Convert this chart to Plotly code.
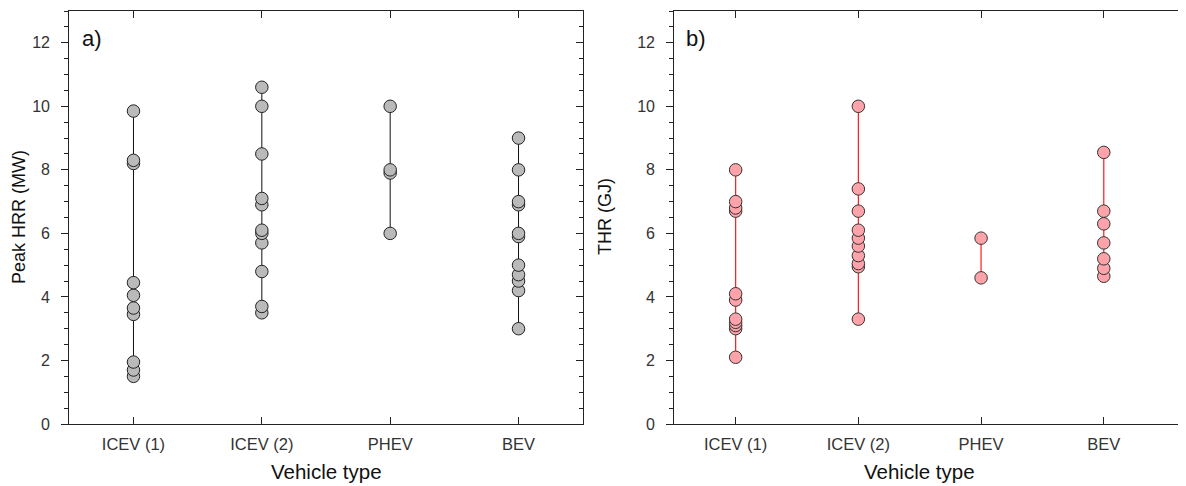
import plotly.graph_objects as go

categories = ["ICEV (1)", "ICEV (2)", "PHEV", "BEV"]

# Panel a) Peak HRR (MW)
hrr_icev1 = [9.85, 8.3, 8.2, 4.45, 4.05, 3.65, 3.45, 1.95, 1.7, 1.5]
hrr_icev2 = [10.6, 10.0, 8.5, 7.1, 6.9, 6.1, 6.0, 5.7, 4.8, 3.7, 3.5]
hrr_phev = [10.0, 8.0, 7.9, 6.0]
hrr_bev = [9.0, 8.0, 7.0, 6.9, 6.0, 5.9, 5.0, 4.7, 4.5, 4.2, 3.0]

# Panel b) THR (GJ)
thr_icev1 = [8.0, 7.0, 6.8, 6.7, 4.1, 3.9, 3.3, 3.2, 3.1, 3.0, 2.1]
thr_icev2 = [10.0, 7.4, 6.7, 6.1, 5.85, 5.6, 5.3, 5.05, 4.95, 3.3]
thr_phev = [5.85, 4.6]
thr_bev = [8.55, 6.7, 6.3, 5.7, 5.2, 4.9, 4.65]

hrr_sets = [hrr_icev1, hrr_icev2, hrr_phev, hrr_bev]
thr_sets = [thr_icev1, thr_icev2, thr_phev, thr_bev]

# page is 1186x486; the default body margin offsets the figure by 8 px
OFF = 8
W, H = 1186 - OFF, 486 - OFF
T, B = 3, 62
PH = H - T - B  # plot height in px
FONT = "Arial, Liberation Sans, sans-serif"

fig = go.Figure()

for cat, vals in zip(categories, hrr_sets):
    v = sorted(vals)
    fig.add_trace(go.Scatter(
        x=[cat] * len(v), y=v, mode="lines+markers", xaxis="x", yaxis="y",
        line=dict(color="#111111", width=1),
        marker=dict(size=12.5, color="#bababa", line=dict(color="#222222", width=1)),
        showlegend=False, hoverinfo="y"))

for cat, vals in zip(categories, thr_sets):
    v = sorted(vals)
    fig.add_trace(go.Scatter(
        x=[cat] * len(v), y=v, mode="lines+markers", xaxis="x2", yaxis="y2",
        line=dict(color="#ff1a1a", width=1.2),
        marker=dict(size=12.5, color="#ffa3ab", line=dict(color="#333333", width=1)),
        showlegend=False, hoverinfo="y"))

# invisible traces to activate the right-side tick axes
fig.add_trace(go.Scatter(x=categories, y=[None] * 4, xaxis="x", yaxis="y3",
                         showlegend=False, hoverinfo="skip"))
fig.add_trace(go.Scatter(x=categories, y=[None] * 4, xaxis="x2", yaxis="y4",
                         showlegend=False, hoverinfo="skip"))

xtickfont = dict(family=FONT, size=16.5, color="#333333")
ytickfont = dict(family=FONT, size=16, color="#333333")

def xax(domain, rng, anchor):
    return dict(domain=domain, anchor=anchor, type="category",
                categoryorder="array", categoryarray=categories,
                range=rng, ticks="inside", ticklen=7, tickwidth=1,
                tickcolor="#222222", showline=True, linecolor="#222222",
                linewidth=1.2, mirror="ticks", showgrid=False, zeroline=False,
                tickfont=xtickfont, ticklabelstandoff=5, automargin=False,
                fixedrange=True)

def yax_left(anchor):
    return dict(anchor=anchor, domain=[0, 1], range=[0, 13], dtick=2,
                ticks="outside", ticklen=7, tickwidth=1, tickcolor="#222222",
                minor=dict(dtick=0.5, ticks="outside", ticklen=4,
                           tickcolor="#222222", tickwidth=1),
                showline=True, linecolor="#222222", linewidth=1.2, mirror=True,
                showgrid=False, zeroline=False, tickfont=ytickfont,
                ticklabelstandoff=8, automargin=False, fixedrange=True)

def yax_right(anchor, overlay):
    return dict(anchor=anchor, overlaying=overlay, side="right",
                range=[0, 13], dtick=2, ticks="inside", ticklen=7, tickwidth=1,
                tickcolor="#222222",
                minor=dict(dtick=0.5, ticks="inside", ticklen=4,
                           tickcolor="#222222", tickwidth=1),
                showline=False, showgrid=False, zeroline=False,
                showticklabels=False, automargin=False, fixedrange=True)

def px(pagex):
    return (pagex - OFF) / W

def py(pagey):
    """page pixel row -> paper y (paper spans the plot area)"""
    return (H - B - (pagey - OFF)) / PH

xd1 = [px(69.3), px(582.7)]
xd2 = [px(674.3), 1.0]

fig.update_layout(
    width=W, height=H, autosize=False,
    margin=dict(l=0, r=0, t=T, b=B, autoexpand=False),
    paper_bgcolor="white", plot_bgcolor="white",
    font=dict(family=FONT, color="#222222"),
    xaxis=xax(xd1, [-0.5, 3.5], "y"),
    yaxis=yax_left("x"),
    yaxis3=yax_right("x", "y"),
    xaxis2=xax(xd2, [-0.5, 3.67], "y2"),
    yaxis2=yax_left("x2"),
    yaxis4=yax_right("x2", "y2"),
)

annotations = [
    dict(text="a)", x=px(80), y=py(38), xanchor="left", yanchor="middle",
         font=dict(family=FONT, size=22, color="#111111")),
    dict(text="b)", x=px(684), y=py(38), xanchor="left", yanchor="middle",
         font=dict(family=FONT, size=22, color="#111111")),
    dict(text="Peak HRR (MW)", x=px(19), y=py(217), textangle=-90,
         xanchor="center", yanchor="middle",
         font=dict(family=FONT, size=18, color="#111111")),
    dict(text="THR (GJ)", x=px(605), y=py(217), textangle=-90,
         xanchor="center", yanchor="middle",
         font=dict(family=FONT, size=18, color="#111111")),
    dict(text="Vehicle type", x=px(326), y=py(471), xanchor="center",
         yanchor="middle", font=dict(family=FONT, size=20.5, color="#111111")),
    dict(text="Vehicle type", x=px(919), y=py(471), xanchor="center",
         yanchor="middle", font=dict(family=FONT, size=20.5, color="#111111")),
]
for a in annotations:
    a.update(xref="paper", yref="paper", showarrow=False)
fig.update_layout(annotations=annotations)

fig.write_html("out.html")
